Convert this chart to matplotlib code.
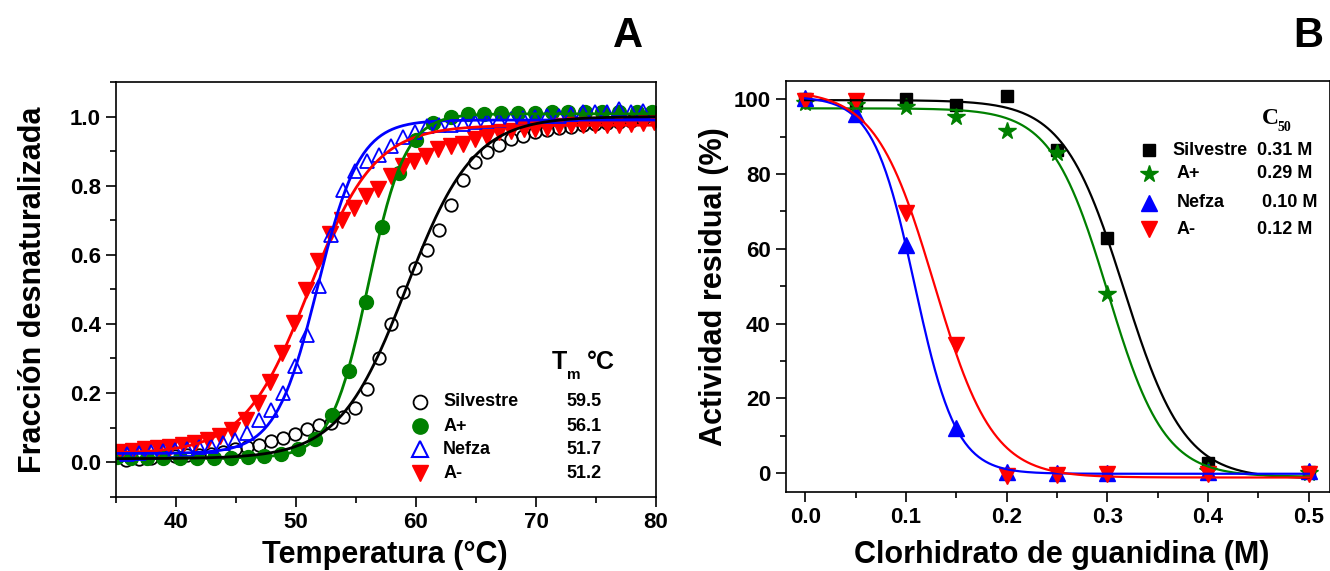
import numpy as np
import matplotlib
matplotlib.use("Agg")
import matplotlib.pyplot as plt
from matplotlib.ticker import MultipleLocator

plt.rcParams['font.family'] = ['Liberation Sans', 'DejaVu Sans']
plt.rcParams['font.weight'] = 'bold'

# ---------------- panel A data (thermal denaturation) ----------------
sil_T = [35.8, 36.9, 37.9, 38.9, 39.9, 40.9, 41.9, 42.9, 43.9, 44.9,
         45.9, 46.9, 47.9, 48.9, 49.9, 50.9, 51.9, 52.9, 53.9, 54.9,
         55.9, 56.9, 57.9, 58.9, 59.9, 60.9, 61.9, 62.9, 63.9, 64.9,
         65.9, 66.9, 67.9, 68.9, 69.9, 70.9, 71.9, 72.9, 73.9, 74.9,
         75.9, 76.9, 77.9, 78.9]
sil_y = [0.006, 0.008, 0.013, 0.015, 0.018, 0.020, 0.022, 0.025, 0.030, 0.038,
         0.044, 0.049, 0.061, 0.069, 0.081, 0.095, 0.107, 0.114, 0.132, 0.156,
         0.211, 0.301, 0.400, 0.493, 0.561, 0.615, 0.671, 0.743, 0.815, 0.868,
         0.897, 0.918, 0.934, 0.944, 0.954, 0.961, 0.966, 0.970, 0.975, 0.978,
         0.981, 0.985, 0.987, 0.992]

ap_T = [35.1, 36.25, 37.6, 38.9, 40.36, 41.76, 43.15, 44.6, 46.0, 47.35,
        48.75, 50.2, 51.6, 53.0, 54.4, 55.8, 57.2, 58.6, 60.0, 61.4,
        62.9, 64.3, 65.65, 67.05, 68.5, 69.9, 71.3, 72.7, 74.05, 75.5,
        76.9, 78.4, 79.7]
ap_y = [0.015, 0.013, 0.011, 0.011, 0.011, 0.011, 0.013, 0.013, 0.015, 0.017,
        0.023, 0.037, 0.066, 0.136, 0.264, 0.464, 0.681, 0.838, 0.932, 0.980,
        0.999, 1.007, 1.007, 1.009, 1.010, 1.010, 1.012, 1.012, 1.012, 1.012,
        1.012, 1.013, 1.014]

nef_T = [35.9, 36.9, 37.9, 38.9, 39.9, 40.9, 41.9, 42.9, 43.9, 44.9,
         45.9, 46.9, 47.9, 48.9, 49.9, 50.9, 51.9, 52.9, 53.9, 54.9,
         55.9, 56.9, 57.9, 58.9, 59.9, 60.9, 61.9, 62.9, 63.9, 64.9,
         65.9, 66.9, 67.9, 68.9, 69.9, 70.9, 71.9, 72.9, 73.9, 74.9,
         75.9, 76.9, 77.9, 78.9]
nef_y = [0.025, 0.027, 0.029, 0.031, 0.034, 0.037, 0.044, 0.047, 0.054, 0.064,
         0.083, 0.122, 0.151, 0.199, 0.279, 0.369, 0.509, 0.658, 0.787, 0.842,
         0.871, 0.888, 0.915, 0.942, 0.956, 0.973, 0.975, 0.975, 0.978, 0.983,
         0.988, 0.991, 0.993, 0.995, 0.998, 1.001, 1.003, 1.008, 1.013, 1.013,
         1.013, 1.021, 1.013, 1.017]

am_T = [35.4, 36.4, 37.4, 38.5, 39.5, 40.6, 41.6, 42.65, 43.7, 44.7,
        45.8, 46.8, 47.8, 48.8, 49.85, 50.8, 51.8, 52.8, 53.8, 54.8,
        55.8, 56.85, 57.9, 58.9, 59.8, 60.8, 61.8, 62.9, 63.9, 64.9,
        65.9, 66.9, 67.9, 69.0, 69.9, 70.9, 71.9, 72.9, 73.9, 74.9,
        75.9, 76.9, 77.9, 78.9, 79.85]
am_y = [0.030, 0.032, 0.037, 0.040, 0.044, 0.049, 0.054, 0.064, 0.075, 0.093,
        0.122, 0.170, 0.233, 0.315, 0.402, 0.499, 0.581, 0.659, 0.702, 0.736,
        0.770, 0.789, 0.828, 0.857, 0.871, 0.886, 0.905, 0.915, 0.920, 0.936,
        0.942, 0.954, 0.958, 0.963, 0.965, 0.968, 0.973, 0.975, 0.976, 0.976,
        0.976, 0.976, 0.978, 0.980, 0.983]

# Boltzmann fit parameters: start level, end level, midpoint, slope
fitA = {
    'sil': (0.010, 1.000, 59.2, 2.8),
    'ap': (0.012, 1.008, 56.0, 1.55),
    'nef': (0.025, 0.990, 51.8, 1.75),
    'am': (0.025, 0.975, 51.1, 2.7),
}
tm_labels = ['59.5', '56.1', '51.7', '51.2']

# ---------------- panel B data (guanidine) ----------------
conc = [0.0, 0.05, 0.1, 0.15, 0.2, 0.25, 0.3, 0.4, 0.5]
act_sil = [100.0, 99.0, 100.2, 98.6, 100.9, 86.4, 63.0, 2.8, 0.3]
act_ap = [99.0, 98.5, 98.0, 95.3, 91.5, 85.6, 48.0, 0.5, 0.0]
act_nef = [100.5, 96.2, 61.0, 12.0, 0.3, 0.0, 0.0, 0.3, 0.5]
act_am = [99.5, 99.5, 69.6, 34.3, -0.8, -0.5, -0.3, -0.3, -0.3]

fitB = {
    'sil': (99.8, -1.5, 0.3165, 0.030),
    'ap': (97.6, -1.0, 0.3005, 0.028),
    'nef': (100.8, -0.2, 0.1088, 0.0207),
    'am': (102.5, -1.2, 0.128, 0.029),
}
c50_labels = ['0.31 M', '0.29 M', '0.10 M', '0.12 M']
names = ['Silvestre', 'A+', 'Nefza', 'A-']

GREEN = '#008000'


def boltz(x, p):
    a1, a2, x0, k = p
    return a2 + (a1 - a2) / (1 + np.exp((x - x0) / k))


def style_axes(ax):
    for s in ax.spines.values():
        s.set_linewidth(1.2)
    ax.tick_params(which='major', direction='out', length=7, width=1.2,
                   labelsize=16, pad=4)
    ax.tick_params(which='minor', direction='out', length=4, width=1.2)
    ax.tick_params(top=False, right=False, which='both')
    for lab in ax.get_xticklabels() + ax.get_yticklabels():
        lab.set_fontweight('bold')


fig = plt.figure(figsize=(13.3, 5.71), dpi=100)
W, H = 1330, 571
axA = fig.add_axes([116 / W, (H - 496.7) / H, 540 / W, 414.7 / H])
axB = fig.add_axes([786 / W, (H - 491.7) / H, 544 / W, 411 / H])

# ---- panel A ----
axA.plot(sil_T, sil_y, 'o', ms=9, mfc='none', mec='black', mew=1.3, ls='none')
axA.plot(ap_T, ap_y, 'o', ms=10, color=GREEN, ls='none')
axA.plot(am_T, am_y, 'v', ms=11, color='red', ls='none')
axA.plot(nef_T, nef_y, '^', ms=10, mfc='none', mec='blue', mew=1.3, ls='none')

Tfit = np.linspace(35, 80, 300)
axA.plot(Tfit, boltz(Tfit, fitA['am']), color='red', lw=2)
axA.plot(Tfit, boltz(Tfit, fitA['nef']), color='blue', lw=2)
axA.plot(Tfit, boltz(Tfit, fitA['ap']), color=GREEN, lw=2)
axA.plot(Tfit, boltz(Tfit, fitA['sil']), color='black', lw=2)

axA.set_xlim(35, 80)
axA.set_ylim(-0.1, 1.1)
axA.xaxis.set_major_locator(MultipleLocator(10))
axA.xaxis.set_minor_locator(MultipleLocator(5))
axA.yaxis.set_major_locator(MultipleLocator(0.2))
axA.yaxis.set_minor_locator(MultipleLocator(0.1))
axA.yaxis.set_major_formatter(plt.FormatStrFormatter('%.1f'))
style_axes(axA)
axA.set_xlabel('Temperatura (°C)', fontsize=22, fontweight='bold')
axA.set_ylabel('Fracción desnaturalizada', fontsize=22, fontweight='bold')
axA.xaxis.set_label_coords(0.498, -0.104)
axA.yaxis.set_label_coords(-0.126, 0.5)

# legend A
tA = axA.transAxes
rowsA = [0.229, 0.170, 0.114, 0.056]
mk = [dict(marker='o', ms=10, mfc='none', mec='black', mew=1.3),
      dict(marker='o', ms=11, color=GREEN),
      dict(marker='^', ms=11, mfc='none', mec='blue', mew=1.5),
      dict(marker='v', ms=12, color='red')]
for y, m, nm, v in zip(rowsA, mk, names, tm_labels):
    axA.plot([0.563], [y], transform=tA, ls='none', clip_on=False, **m)
    axA.text(0.606, y, nm, transform=tA, fontsize=13, fontweight='bold',
             va='center', ha='left')
    axA.text(0.900, y, v, transform=tA, fontsize=13, fontweight='bold',
             va='center', ha='right')
axA.text(0.807, 0.325, 'T', transform=tA, fontsize=18, fontweight='bold',
         va='center', ha='left')
axA.text(0.835, 0.293, 'm', transform=tA, fontsize=11, fontweight='bold',
         va='center', ha='left')
axA.text(0.872, 0.325, '°C', transform=tA, fontsize=18, fontweight='bold',
         va='center', ha='left')

# ---- panel B ----
axB.plot(conc, act_sil, 's', ms=9, color='black', ls='none')
axB.plot(conc, act_ap, '*', ms=13, color=GREEN, ls='none')
axB.plot(conc, act_nef, '^', ms=11, color='blue', ls='none')
axB.plot(conc, act_am, 'v', ms=11, color='red', ls='none')

cfit = np.linspace(0, 0.5, 300)
axB.plot(cfit, boltz(cfit, fitB['sil']), color='black', lw=1.6)
axB.plot(cfit, boltz(cfit, fitB['ap']), color=GREEN, lw=1.6)
axB.plot(cfit, boltz(cfit, fitB['nef']), color='blue', lw=1.6)
axB.plot(cfit, boltz(cfit, fitB['am']), color='red', lw=1.6)

axB.set_xlim(-0.019, 0.521)
axB.set_ylim(-5, 105)
axB.xaxis.set_major_locator(MultipleLocator(0.1))
axB.xaxis.set_minor_locator(MultipleLocator(0.05))
axB.yaxis.set_major_locator(MultipleLocator(20))
axB.yaxis.set_minor_locator(MultipleLocator(10))
axB.xaxis.set_major_formatter(plt.FormatStrFormatter('%.1f'))
style_axes(axB)
axB.set_xlabel('Clorhidrato de guanidina (M)', fontsize=22, fontweight='bold')
axB.set_ylabel('Actividad residual (%)', fontsize=22, fontweight='bold')
axB.xaxis.set_label_coords(0.507, -0.117)
axB.yaxis.set_label_coords(-0.105, 0.5)

# legend B
tB = axB.transAxes
rowsB = [0.831, 0.773, 0.703, 0.639]
txB = [0.710, 0.717, 0.719, 0.717]
valB = [0.866, 0.866, 0.875, 0.866]
mkB = [dict(marker='s', ms=8, color='black'),
       dict(marker='*', ms=13, color=GREEN),
       dict(marker='^', ms=12, color='blue'),
       dict(marker='v', ms=12, color='red')]
for y, m, nm, v, tx, vx in zip(rowsB, mkB, names, c50_labels, txB, valB):
    axB.plot([0.667], [y], transform=tB, ls='none', clip_on=False, **m)
    axB.text(tx, y, nm, transform=tB, fontsize=13, fontweight='bold',
             va='center', ha='left')
    axB.text(vx, y, v, transform=tB, fontsize=13, fontweight='bold',
             va='center', ha='left')
axB.text(0.875, 0.909, 'C', transform=tB, fontsize=17, fontweight='bold',
         family='Liberation Serif', va='center', ha='left')
axB.text(0.903, 0.885, '50', transform=tB, fontsize=10, fontweight='bold',
         family='Liberation Serif', va='center', ha='left')

# panel letters
fig.text(628 / W, 1 - 36 / H, 'A', fontsize=30, fontweight='bold',
         ha='center', va='center')
fig.text(1308 / W, 1 - 36 / H, 'B', fontsize=30, fontweight='bold',
         ha='center', va='center')

fig.savefig('out.png', dpi=100)
